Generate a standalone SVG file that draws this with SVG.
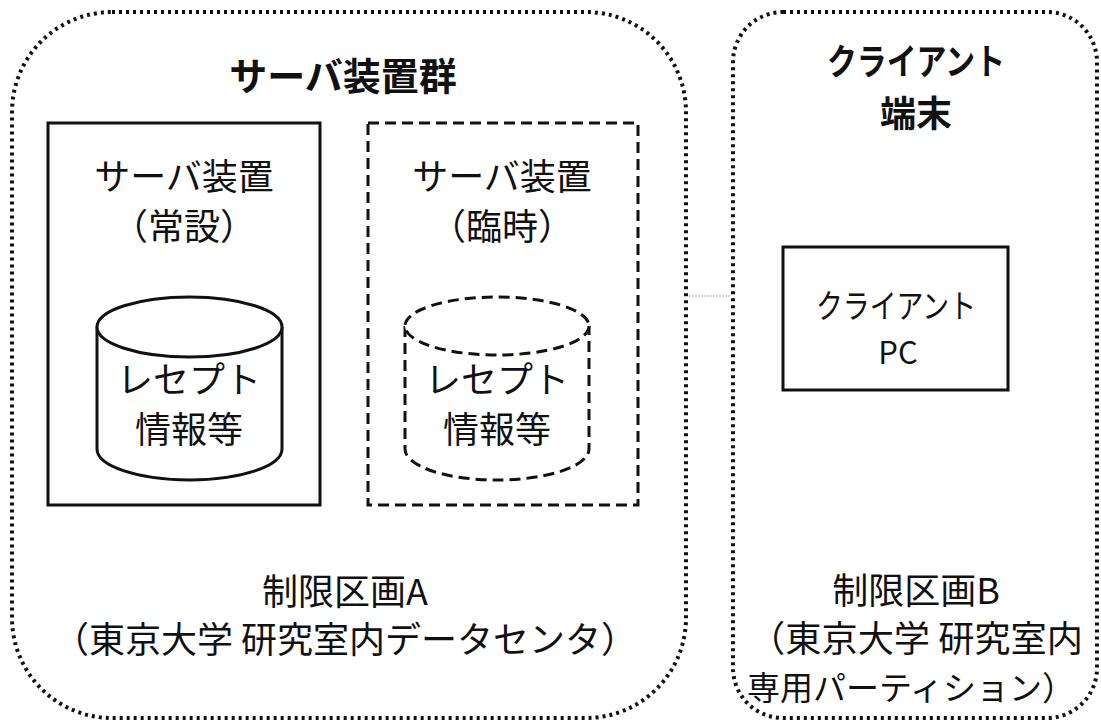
<svg xmlns="http://www.w3.org/2000/svg" width="1101" height="725" viewBox="0 0 1101 725">
<style>
text{font-family:"Noto Sans CJK JP","Liberation Sans",sans-serif;fill:#111;text-anchor:middle;}
.t{font-size:36px;}
.b{font-size:38px;font-weight:bold;}
.bs{font-size:36px;font-weight:bold;}
.zone{fill:none;stroke:#111;stroke-width:4;stroke-dasharray:3 4;}
.solid{fill:#fff;stroke:#111;stroke-width:3;}
.dash{fill:#fff;stroke:#111;stroke-width:3;stroke-dasharray:11 6;}
</style>
<rect width="1101" height="725" fill="#fff"/>
<g id="zoneA">
<rect class="zone" x="12" y="12" width="674" height="706" rx="100" ry="100"/>
<text class="b" x="343" y="90">サーバ装置群</text>
<text class="t" x="345" y="605">制限区画A</text>
<text class="t" x="345" y="653">（東京大学 研究室内データセンタ）</text>
</g>
<g id="zoneB">
<rect class="zone" x="733" y="12" width="364" height="706" rx="50" ry="50"/>
<text class="bs" x="916" y="75" textLength="178" lengthAdjust="spacingAndGlyphs">クライアント</text>
<text class="bs" x="916" y="127">端末</text>
<text class="t" x="916" y="604">制限区画B</text>
<text class="t" x="916" y="652" textLength="334" lengthAdjust="spacingAndGlyphs">（東京大学 研究室内</text>
<text x="911" y="700" style="font-size:33px">専用パーティション）</text>
</g>
<g id="server-permanent">
<rect class="solid" x="48" y="123" width="272" height="382"/>
<text class="t" x="184" y="190">サーバ装置</text>
<text class="t" x="184" y="240">（常設）</text>
</g>
<g id="db-permanent">
<path class="solid" d="M97,327 L97,449 A92.5,31 0 0 0 282,449 L282,327"/>
<ellipse class="solid" cx="189.5" cy="327" rx="92.5" ry="30"/>
<text class="t" x="189" y="393">レセプト</text>
<text class="t" x="189" y="443">情報等</text>
</g>
<g id="server-temporary">
<rect class="dash" x="368" y="123" width="270" height="382"/>
<text class="t" x="502" y="190">サーバ装置</text>
<text class="t" x="502" y="240">（臨時）</text>
</g>
<g id="db-temporary">
<path class="dash" d="M405,326 L405,449 A92,31 0 0 0 589,449 L589,326"/>
<ellipse class="dash" cx="497" cy="326" rx="92" ry="29"/>
<text class="t" x="497" y="393">レセプト</text>
<text class="t" x="497" y="443">情報等</text>
</g>
<g id="client-pc">
<rect class="solid" x="783" y="247" width="225" height="143"/>
<text x="896" y="318" style="font-size:33px" textLength="160" lengthAdjust="spacingAndGlyphs">クライアント</text>
<text x="898" y="364" style="font-size:31px">PC</text>
</g>
<g id="connectors">
<line x1="689" y1="296" x2="730" y2="296" stroke="#c8c8c8" stroke-width="1.5" stroke-dasharray="2 1"/>
</g>
</svg>
